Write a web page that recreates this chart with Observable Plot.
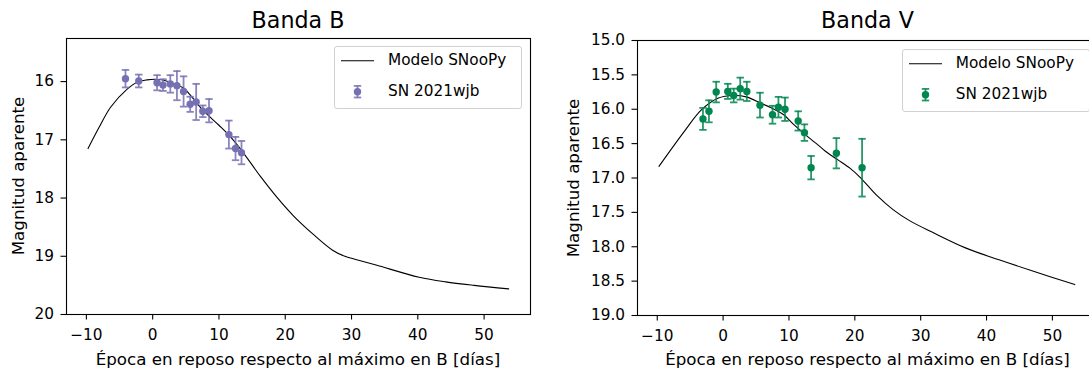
<!DOCTYPE html>
<html>
<head>
<meta charset="utf-8">
<script src="https://cdn.jsdelivr.net/npm/d3@7"></script>
<script src="https://cdn.jsdelivr.net/npm/@observablehq/plot@0.6"></script>
<style>
  html, body { margin: 0; padding: 0; background: #fff; overflow: hidden; }
  #fig { position: relative; width: 1089px; height: 369px; overflow: hidden; font-family: "DejaVu Sans", sans-serif; color: #000; }
  .panel { position: absolute; top: 0; }
  .txt { position: absolute; white-space: nowrap; line-height: 15.3px; font-size: 15.3px; }
  .title { position: absolute; white-space: nowrap; line-height: 22.2px; font-size: 22.2px; transform: translateX(-50%); }
  .ylab { position: absolute; white-space: nowrap; line-height: 16.7px; font-size: 16.7px; transform: translate(-50%, -50%) rotate(-90deg); }
  .xlab { position: absolute; white-space: nowrap; line-height: 16.7px; font-size: 16.7px; transform: translateX(-50%); }
  .legend { position: absolute; border: 1px solid #d0d0d0; border-radius: 3px; background: rgba(255,255,255,0.8); box-sizing: border-box; }
  .legend svg { position: absolute; left: 0; top: 0; }
</style>
</head>
<body>
<div id="fig"></div>
<script>
// ---------- data ----------
const xTicks = [-10, 0, 10, 20, 30, 40, 50];
const bTicks = [16, 17, 18, 19, 20];
const vTicks = [15.0, 15.5, 16.0, 16.5, 17.0, 17.5, 18.0, 18.5, 19.0];

const titles = ["Banda B", "Banda V"];
const xLabel = "Época en reposo respecto al máximo en B [días]";
const yLabel = "Magnitud aparente";
const legendLabels = ["Modelo SNooPy", "SN 2021wjb"];

// SNooPy model, B band
const modelBEpoch = [-9.75, -8.1, -6.35, -3.85, -2.35, -0.85, 0.5, 1.8, 3.0, 4.66, 5.8, 7.66, 10.0, 11.5, 13.4, 16.2, 18.7, 21.2, 24.2, 27.2, 29.0, 30.5, 33.7, 40.2, 44.2, 48.5, 53.7];
const modelBMag   = [17.15, 16.79, 16.44, 16.13, 16.01, 15.97, 15.96, 15.98, 16.03, 16.11, 16.25, 16.50, 16.75, 16.92, 17.18, 17.62, 17.98, 18.30, 18.62, 18.90, 19.00, 19.05, 19.15, 19.36, 19.44, 19.50, 19.56];

// SNooPy model, V band
const modelVEpoch = [-9.74, -5.8, -3.3, -0.8, 1.7, 3.5, 5.7, 7.5, 9.2, 10.7, 12.75, 14.8, 15.8, 17.5, 19.3, 20.8, 23.3, 25.8, 28.3, 31.8, 36.9, 41.9, 46.9, 53.4];
const modelVMag   = [16.83, 16.31, 16.01, 15.84, 15.80, 15.82, 15.91, 15.99, 16.08, 16.22, 16.39, 16.55, 16.63, 16.74, 16.86, 16.99, 17.25, 17.46, 17.62, 17.79, 18.02, 18.19, 18.35, 18.55];

// SN 2021wjb photometry, B band
const obsBEpoch = [-4.1, -2.1, 0.66, 1.56, 2.66, 3.66, 4.66, 5.66, 6.56, 7.56, 8.5, 11.5, 12.5, 13.4];
const obsBMag   = [15.95, 15.99, 16.02, 16.06, 16.04, 16.07, 16.17, 16.39, 16.35, 16.51, 16.50, 16.91, 17.15, 17.22];
const obsBErr   = [0.15, 0.11, 0.13, 0.10, 0.15, 0.25, 0.26, 0.13, 0.31, 0.10, 0.20, 0.24, 0.20, 0.20];

// SN 2021wjb photometry, V band
const obsVEpoch = [-3.06, -2.15, -1.05, 0.71, 1.61, 2.6, 3.6, 5.6, 7.5, 8.4, 9.4, 11.4, 12.35, 13.36, 17.2, 21.1];
const obsVMag   = [16.14, 16.03, 15.75, 15.74, 15.80, 15.70, 15.74, 15.94, 16.08, 15.97, 16.00, 16.17, 16.34, 16.85, 16.64, 16.85];
const obsVErr   = [0.16, 0.16, 0.15, 0.11, 0.10, 0.16, 0.14, 0.18, 0.13, 0.15, 0.17, 0.14, 0.12, 0.17, 0.22, 0.42];

const colorB = "#7570b3";
const colorV = "#00864f";

// ---------- drawing ----------
const capSymbol = { draw(ctx) { const w = 3.7; ctx.moveTo(-w, 0); ctx.lineTo(w, 0); } };

function panel(o) {
  const obs = o.epoch.map((t, i) => ({t, m: o.mag[i], e: o.err[i]}));
  const model = o.mEpoch.map((t, i) => ({t, m: o.mMag[i]}));
  const errStyle = {stroke: o.color, strokeWidth: 1.8, strokeOpacity: 0.85};
  return Plot.plot({
    width: o.width, height: 369,
    marginLeft: o.marginLeft, marginRight: o.marginRight, marginTop: o.marginTop, marginBottom: o.marginBottom,
    style: {fontFamily: "DejaVu Sans", fontSize: "15.3px", color: "black", background: "transparent", overflow: "visible"},
    x: {domain: [-13, 57]},
    y: {domain: o.yDomain, reverse: true},
    marks: [
      Plot.axisX({ticks: xTicks, tickSize: 5.5, tickPadding: 9, strokeWidth: 1.1, label: null, tickFormat: d3.format("d")}),
      Plot.axisY({ticks: o.yTicks, tickSize: 5.5, tickPadding: 7, strokeWidth: 1.1, label: null, tickFormat: o.yFormat}),
      Plot.line(model, {x: "t", y: "m", stroke: "black", strokeWidth: 1.1, curve: "catmull-rom"}),
      Plot.ruleX(obs, {x: "t", y1: d => d.m - d.e, y2: d => d.m + d.e, ...errStyle}),
      Plot.dot(obs, {x: "t", y: d => d.m - d.e, symbol: capSymbol, fill: "none", ...errStyle}),
      Plot.dot(obs, {x: "t", y: d => d.m + d.e, symbol: capSymbol, fill: "none", ...errStyle}),
      Plot.dot(obs, {x: "t", y: "m", r: 3.7, fill: o.color, stroke: "none"}),
      Plot.frame({stroke: "black", strokeWidth: 1.1})
    ]
  });
}

const fig = document.getElementById("fig");

function place(el, left) {
  el.classList.add("panel");
  el.style.left = left + "px";
  fig.appendChild(el);
}

place(panel({
  epoch: obsBEpoch, mag: obsBMag, err: obsBErr, mEpoch: modelBEpoch, mMag: modelBMag,
  color: colorB, yDomain: [15.26, 20], yTicks: bTicks, yFormat: d3.format("d"),
  width: 544, marginLeft: 66, marginRight: 14, marginTop: 38, marginBottom: 55
}), 0);

place(panel({
  epoch: obsVEpoch, mag: obsVMag, err: obsVErr, mEpoch: modelVEpoch, mMag: modelVMag,
  color: colorV, yDomain: [15, 19], yTicks: vTicks, yFormat: d3.format(".1f"),
  width: 550, marginLeft: 77, marginRight: 12, marginTop: 40, marginBottom: 54
}), 560);

function addText(cls, text, left, top) {
  const d = document.createElement("div");
  d.className = cls;
  d.textContent = text;
  d.style.left = left + "px";
  d.style.top = top + "px";
  fig.appendChild(d);
  return d;
}

// titles
addText("title", titles[0], 298, 9.2);
addText("title", titles[1], 867.5, 9.2);
// axis labels
addText("xlab", xLabel, 298, 350.9);
addText("xlab", xLabel, 867.5, 350.9);
addText("ylab", yLabel, 18.3, 176);
addText("ylab", yLabel, 572.7, 177.5);

// legends
function legend(left, top, color) {
  const box = document.createElement("div");
  box.className = "legend";
  box.style.left = left + "px";
  box.style.top = top + "px";
  box.style.width = "188px";
  box.style.height = "63px";
  const ns = "http://www.w3.org/2000/svg";
  const svg = document.createElementNS(ns, "svg");
  svg.setAttribute("width", 50);
  svg.setAttribute("height", 63);
  const el = (tag, attrs) => { const e = document.createElementNS(ns, tag); for (const k in attrs) e.setAttribute(k, attrs[k]); svg.appendChild(e); return e; };
  el("line", {x1: 6, x2: 39, y1: 13.8, y2: 13.8, stroke: "black", "stroke-width": 1.1});
  const cx = 22.5, cy = 44.7;
  el("line", {x1: cx, x2: cx, y1: cy - 5.8, y2: cy + 5.8, stroke: color, "stroke-width": 1.8, "stroke-opacity": 0.85});
  el("line", {x1: cx - 3.7, x2: cx + 3.7, y1: cy - 5.8, y2: cy - 5.8, stroke: color, "stroke-width": 1.8, "stroke-opacity": 0.85});
  el("line", {x1: cx - 3.7, x2: cx + 3.7, y1: cy + 5.8, y2: cy + 5.8, stroke: color, "stroke-width": 1.8, "stroke-opacity": 0.85});
  el("circle", {cx, cy, r: 3.7, fill: color});
  box.appendChild(svg);
  const t1 = document.createElement("div"); t1.className = "txt"; t1.textContent = legendLabels[0];
  t1.style.left = "53px"; t1.style.top = "6.4px"; box.appendChild(t1);
  const t2 = document.createElement("div"); t2.className = "txt"; t2.textContent = legendLabels[1];
  t2.style.left = "53px"; t2.style.top = "37.3px"; box.appendChild(t2);
  fig.appendChild(box);
}
legend(334, 45.7, colorB);
legend(901.7, 48.5, colorV);
</script>
</body>
</html>
